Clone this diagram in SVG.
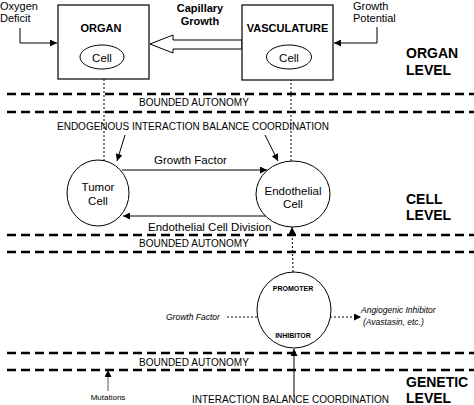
<svg xmlns="http://www.w3.org/2000/svg" width="474" height="405" viewBox="0 0 474 405">
<defs>
<marker id="ah" viewBox="0 0 10 10" refX="10" refY="5" markerWidth="8" markerHeight="7" markerUnits="userSpaceOnUse" orient="auto">
<path d="M0,0 L10,5 L0,10 z" fill="#000"/>
</marker>
</defs>
<style>
text{font-family:"Liberation Sans",Arial,sans-serif;fill:#000}
.t11{font-size:11px}
.t115{font-size:11.5px}
.b11{font-size:11px;font-weight:bold}
.lvl{font-size:14px;font-weight:bold}
.t10{font-size:10px}
.sm{font-size:7px;font-weight:bold}
.it{font-size:8.5px;font-style:italic}
.mid{text-anchor:middle}
.box{fill:#fff;stroke:#000;stroke-width:1.2}
.ell{fill:#fff;stroke:#000;stroke-width:1}
.dash{stroke:#000;stroke-width:2.6;stroke-dasharray:9,5;fill:none}
.dot{stroke:#000;stroke-width:1;stroke-dasharray:2,2;fill:none}
.sol{stroke:#000;stroke-width:1;fill:none}
</style>
<rect width="474" height="405" fill="#fff"/>

<g id="level-lines">
<line class="dash" x1="7" y1="94" x2="474" y2="94"/>
<line class="dash" x1="7" y1="112" x2="474" y2="112"/>
<line class="dash" x1="7" y1="235" x2="474" y2="235"/>
<line class="dash" x1="7" y1="252" x2="474" y2="252"/>
<line class="dash" x1="7" y1="353" x2="474" y2="353"/>
<line class="dash" x1="7" y1="370" x2="474" y2="370"/>
</g>

<g id="connectors">
<polyline class="sol" points="20,28 20,43 57,43" marker-end="url(#ah)"/>
<polyline class="sol" points="377,27 377,43 334,43" marker-end="url(#ah)"/>
<polygon points="150,44 173,35 173,40 242,40 242,49 173,49 173,53" fill="#fff" stroke="#000" stroke-width="1"/>
<line class="dot" x1="104" y1="161" x2="104" y2="70" marker-end="url(#ah)"/>
<line class="dot" x1="291" y1="161" x2="291" y2="70" marker-end="url(#ah)"/>
<line class="sol" x1="125" y1="135" x2="117" y2="161" marker-end="url(#ah)"/>
<line class="sol" x1="265" y1="135" x2="278" y2="161" marker-end="url(#ah)"/>
<line class="sol" x1="122" y1="170" x2="267" y2="170" marker-end="url(#ah)"/>
<line class="sol" x1="266" y1="216" x2="123" y2="216" marker-end="url(#ah)"/>
<line class="dot" x1="293" y1="272" x2="292" y2="227" marker-end="url(#ah)"/>
<line class="dot" x1="227" y1="317" x2="268" y2="317" marker-end="url(#ah)"/>
<line class="dot" x1="322" y1="317" x2="361" y2="317" marker-end="url(#ah)"/>
<line class="dot" x1="283" y1="297" x2="283" y2="328" marker-end="url(#ah)"/>
<line class="dot" x1="304" y1="323" x2="304" y2="295" marker-end="url(#ah)"/>
<line class="sol" x1="294" y1="397" x2="294" y2="349" marker-end="url(#ah)"/>
<line x1="108" y1="391" x2="108" y2="370" stroke="#555" stroke-width="1" marker-end="url(#ah)"/>
</g>

<g id="organ">
<rect class="box" x="58" y="5" width="91" height="74"/>
<text class="b11 mid" x="101" y="32">ORGAN</text>
<ellipse class="ell" cx="102" cy="57" rx="22" ry="12"/>
<text class="t115 mid" x="102" y="61.5">Cell</text>
</g>

<g id="vasculature">
<rect class="box" x="242" y="5" width="91" height="75"/>
<text class="b11 mid" x="287.5" y="32">VASCULATURE</text>
<ellipse class="ell" cx="289" cy="57" rx="22.5" ry="12"/>
<text class="t115 mid" x="289" y="61.5">Cell</text>
</g>

<g id="tumor-cell">
<ellipse class="ell" cx="98" cy="193" rx="31" ry="33"/>
<text class="t115 mid" x="98" y="191">Tumor</text>
<text class="t115 mid" x="98" y="205">Cell</text>
</g>

<g id="endothelial-cell">
<ellipse class="ell" cx="293" cy="194" rx="37" ry="33"/>
<text class="t115 mid" x="293" y="195">Endothelial</text>
<text class="t115 mid" x="293" y="208">Cell</text>
</g>

<g id="gene">
<ellipse class="ell" cx="294" cy="310" rx="37" ry="38"/>
<text class="sm mid" x="293" y="291">PROMOTER</text>
<text class="sm mid" x="293" y="338">INHIBITOR</text>
</g>

<g id="labels">
<text class="t11" x="0" y="10">Oxygen</text>
<text class="t11" x="0" y="22">Deficit</text>
<text class="t11" x="353" y="10">Growth</text>
<text class="t11" x="353" y="22">Potential</text>
<text class="b11 mid" x="200" y="12">Capillary</text>
<text class="b11 mid" x="200" y="25">Growth</text>
<text class="lvl" x="406" y="58">ORGAN</text>
<text class="lvl" x="406" y="75">LEVEL</text>
<text class="t10" x="139" y="106">BOUNDED AUTONOMY</text>
<text class="t10" x="57" y="130">ENDOGENOUS INTERACTION BALANCE COORDINATION</text>
<text class="t115" x="154" y="164">Growth Factor</text>
<text class="t115" x="148" y="231">Endothelial Cell Division</text>
<text class="lvl" x="406" y="204">CELL</text>
<text class="lvl" x="406" y="220">LEVEL</text>
<text class="t10" x="139" y="247">BOUNDED AUTONOMY</text>
<text class="it" x="166" y="320">Growth Factor</text>
<text class="it" x="361" y="313">Angiogenic Inhibitor</text>
<text class="it" x="363" y="325">(Avastasin, etc.)</text>
<text class="t10" x="139" y="366">BOUNDED AUTONOMY</text>
<text class="mid" x="108" y="400" style="font-size:8px">Mutations</text>
<text class="t10" x="192" y="403">INTERACTION BALANCE COORDINATION</text>
<text class="lvl" x="406" y="387">GENETIC</text>
<text class="lvl" x="406" y="403">LEVEL</text>
</g>
</svg>
